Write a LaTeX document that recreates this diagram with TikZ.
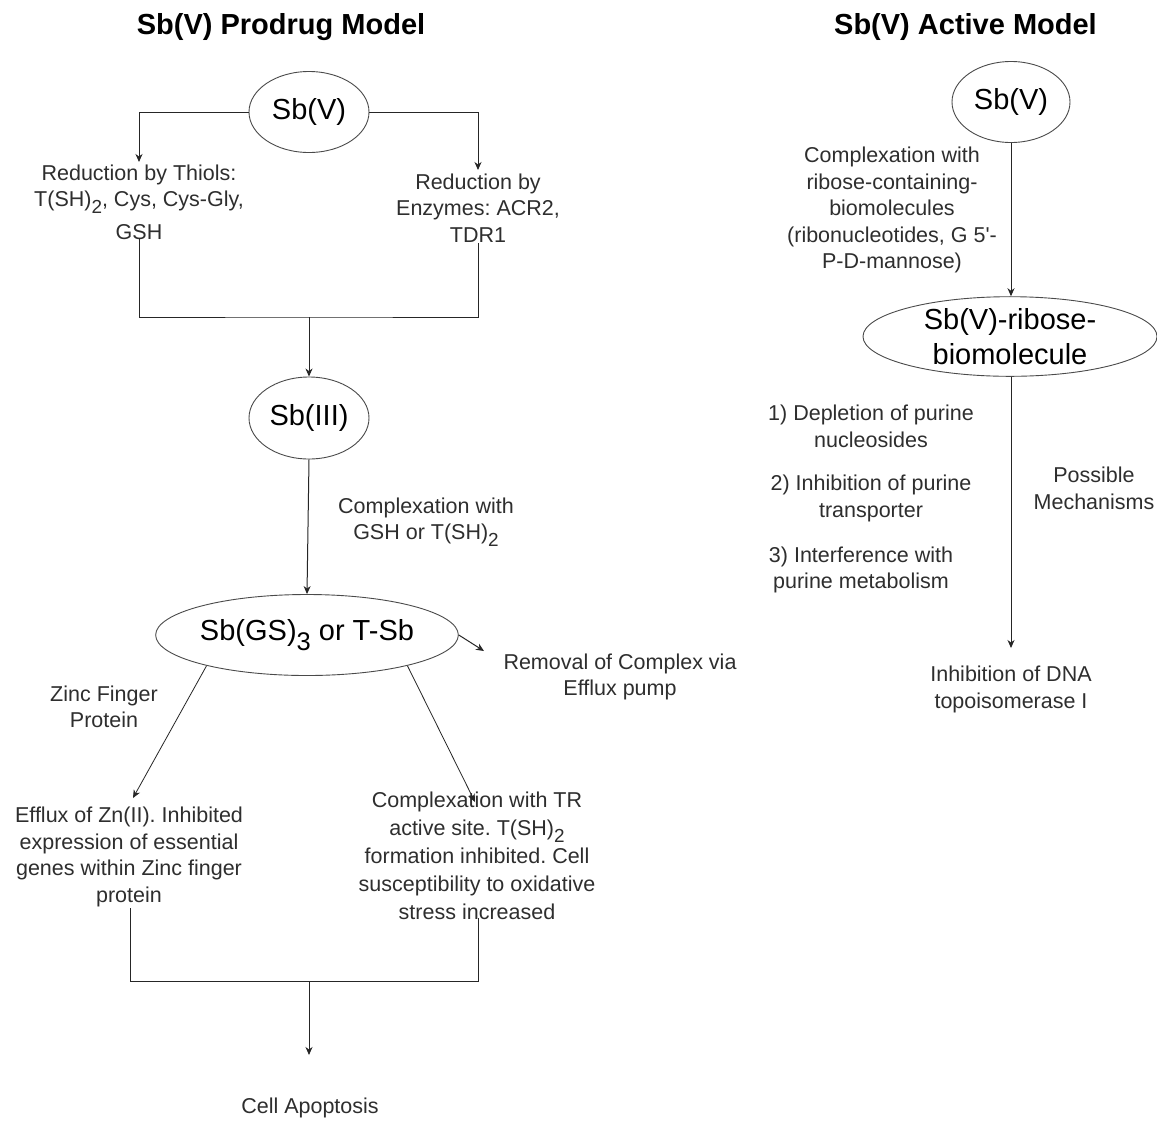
\documentclass[tikz,border=0pt]{standalone}
\usepackage{fontspec}
\setmainfont{Liberation Sans}
\usetikzlibrary{shapes.geometric,arrows.meta}
\definecolor{txt}{HTML}{2E2E2E}
\definecolor{ln}{HTML}{262626}
\definecolor{ell}{HTML}{4A4A4A}
\newcommand{\lsub}[1]{\raisebox{-0.32em}{\scalebox{0.88}{#1}}}
\frenchspacing
\begin{document}
\begin{tikzpicture}[x=1pt,y=-1pt,
  lbl/.style={font=\fontsize{21.5}{26.5}\selectfont, text=txt, align=center, inner sep=0pt},
  ttl/.style={font=\fontsize{29}{34}\selectfont\bfseries, text=black, inner sep=0pt},
  oval/.style={ellipse, draw=ell, line width=0.9pt, text=black, inner sep=0pt,
     font=\fontsize{29}{35}\selectfont, align=center},
  conn/.style={draw=ln, line width=1pt},
  arr/.style={conn, -{Stealth[length=8pt,width=7pt,inset=2.5pt]}}
]
\fill[white] (0,0) rectangle (1157,1120);
\useasboundingbox (0,0) rectangle (1157,1120);

% ---------------- Left: prodrug model ----------------
\node[ttl] (t1) at (281,27) {Sb(V) Prodrug Model};
\node[oval, minimum width=120pt, minimum height=81pt] (sbvL) at (309,112) {Sb(V)};
\node[lbl] (thiol) at (139,202) {Reduction by Thiols:\\ T(SH)\lsub{2}, Cys, Cys-Gly,\\[6pt] GSH};
\node[lbl] (enz) at (478,208) {Reduction by\\ Enzymes: ACR2,\\ TDR1};
\coordinate (thiolT) at (139,162);
\coordinate (enzT) at (478,170);
\coordinate (thiolB) at (139,238);
\coordinate (enzB) at (478,243);
\coordinate (j1) at (309,317);
\draw[arr] (sbvL.west) -| (thiolT);
\draw[arr] (sbvL.east) -| (enzT);
\draw[conn] (thiolB) |- (j1) -| (enzB);

\node[oval, minimum width=120pt, minimum height=82pt] (sbiii) at (309,418) {Sb(III)};
\draw[arr] (j1) -- (sbiii.north);
\node[lbl] (comp1) at (426,522) {Complexation with\\ GSH or T(SH)\lsub{2}};
\node[oval, minimum width=280pt, minimum height=81pt] (sbgs) at (307,635) {Sb(GS)\lsub{3} or T-Sb};
\draw[arr] (sbiii.south) -- (sbgs.north);

\node[lbl] (removal) at (620,677) {Removal of Complex via\\ Efflux pump};
\coordinate (remT) at (484,651);
\draw[arr] (sbgs.east) -- (remT);

\node[lbl] (zinc) at (104,707) {Zinc Finger\\ Protein};
\node[lbl] (efflux) at (129,857) {Efflux of Zn(II). Inhibited\\ expression of essential\\ genes within Zinc finger\\ protein};
\node[lbl, font=\fontsize{21.5}{28}\selectfont] (cxtr) at (477,856) {Complexation with TR\\ active site. T(SH)\lsub{2}\\ formation inhibited. Cell\\ susceptibility to oxidative\\ stress increased};
\coordinate (effT) at (133,798);
\coordinate (cxT) at (475,802);
\draw[arr, line width=0.8pt] (sbgs.197) -- (effT);
\draw[arr, line width=0.8pt] (sbgs.343) -- (cxT);

\coordinate (effB) at (130,908);
\coordinate (cxB) at (478,918);
\coordinate (j2) at (309,981);
\draw[conn] (effB) |- (j2) -| (cxB);
\node[lbl] (apop) at (310,1108) {Cell Apoptosis};
\coordinate (apT) at (309,1055);
\draw[arr] (j2) -- (apT);

% ---------------- Right: active model ----------------
\node[ttl] (t2) at (965.5,27) {Sb(V) Active Model};
\node[oval, minimum width=118pt, minimum height=81pt] (sbvR) at (1011,102) {Sb(V)};
\node[lbl] (cx2) at (892,210) {Complexation with\\ ribose-containing-\\ biomolecules\\ (ribonucleotides, G 5\textquotesingle-\\ P-D-mannose)};
\node[oval, minimum width=294pt, minimum height=78pt] (ribo) at (1010,336.5) {\raisebox{-3pt}{Sb(V)-ribose-}\\ \raisebox{-3pt}{biomolecule}};
\draw[arr] (sbvR.south) -- (sbvR.south |- ribo.north);

\node[lbl] (m1) at (871,426.5) {1) Depletion of purine\\ nucleosides};
\node[lbl] (m2) at (871,498.5) {2) Inhibition of purine\\ transporter};
\node[lbl] (m3) at (861,570) {3) Interference with\\ purine metabolism};
\node[lbl] (poss) at (1094,488.5) {Possible\\ Mechanisms};
\node[lbl] (topo) at (1011,689.5) {Inhibition of DNA\\ topoisomerase I};
\coordinate (topT) at (1011,648);
\draw[arr] (sbvR.south |- ribo.south) -- (topT);
\end{tikzpicture}
\end{document}
